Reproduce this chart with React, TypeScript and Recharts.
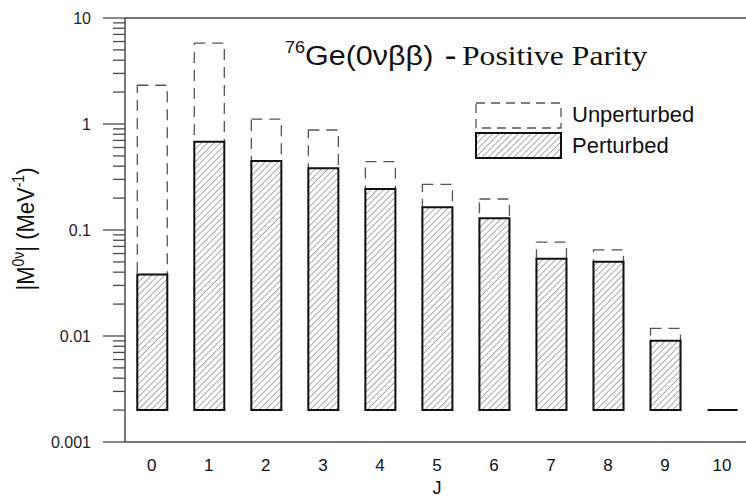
import { Bar, BarChart, Label, Legend, ReferenceLine, XAxis, YAxis } from "recharts";

// angular momentum J of the intermediate states
const J_VALUES = [0, 1, 2, 3, 4, 5, 6, 7, 8, 9, 10];
// |M0ν| contributions in MeV^-1
const UNPERTURBED = [2.32, 5.8, 1.11, 0.878, 0.441, 0.27, 0.196, 0.077, 0.065, 0.0118, null];
const PERTURBED = [0.038, 0.68, 0.448, 0.382, 0.244, 0.164, 0.129, 0.0536, 0.0502, 0.009, 0.002];
const BAR_BASE = 0.002;

const Y_MAJOR = [0.001, 0.01, 0.1, 1, 10];
const Y_MINOR_STEPS = [2, 3, 4, 5, 6, 7, 8, 9];

const yTicks = [
  ...Y_MAJOR,
  ...Y_MAJOR.slice(0, -1).flatMap((d) => Y_MINOR_STEPS.map((m) => +(d * m).toPrecision(3))),
];

const data = J_VALUES.map((j, i) => ({
  j,
  unperturbed: UNPERTURBED[i] == null ? null : [BAR_BASE, UNPERTURBED[i]],
  perturbed: [BAR_BASE, PERTURBED[i]],
}));

const SANS = "Arial, 'Liberation Sans', sans-serif";
const SERIF = "'Times New Roman', 'Liberation Serif', serif";
const AXIS = "#4a4a4a";

function DashedBar(props: any) {
  const { x, y, width, height } = props;
  if (height == null || isNaN(height)) return null;
  return (
    <rect
      x={x}
      y={y}
      width={width}
      height={height}
      fill="none"
      stroke="#555"
      strokeWidth={1.3}
      strokeDasharray="11 7"
    />
  );
}

function HatchedBar(props: any) {
  const { x, y, width, height } = props;
  if (height == null || isNaN(height)) return null;
  return (
    <path
      d={`M${x},${y}h${width}v${height}h${-width}Z`}
      fill="url(#hatch)"
      stroke="#111"
      strokeWidth={2}
    />
  );
}

function LogTick(props: any) {
  const { x, y, payload } = props;
  const major = Y_MAJOR.includes(payload.value);
  return (
    <g>
      <line x1={x - (major ? 22 : 12)} x2={x} y1={y} y2={y} stroke={AXIS} strokeWidth={1.3} />
      {major && (
        <text x={x - 34} y={y + 6} textAnchor="end" fontFamily={SANS} fontSize={16} fill="#222">
          {payload.value}
        </text>
      )}
    </g>
  );
}

function YTitle() {
  return (
    <text
      transform="translate(34, 229) scale(1.12, 1) rotate(-90)"
      textAnchor="middle"
      fontFamily={SANS}
      fontSize={22}
      fill="#111"
    >
      |M
      <tspan fontSize={14} dy={-9}>0ν</tspan>
      <tspan dy={9}>| (MeV</tspan>
      <tspan fontSize={14} dy={-9}>-1</tspan>
      <tspan dy={9}>)</tspan>
    </text>
  );
}

function JTitle(props: any) {
  const { viewBox } = props;
  return (
    <text x={viewBox.x + 312} y={494} textAnchor="middle" fontFamily={SANS} fontSize={18} fill="#111">
      J
    </text>
  );
}

function LegendBox() {
  return (
    <svg width={260} height={70}>
      <rect x={1} y={3} width={85} height={25} fill="none" stroke="#555" strokeWidth={1.3} strokeDasharray="9 6" />
      <rect x={1} y={33} width={85} height={25} fill="url(#hatch)" stroke="#111" strokeWidth={2} />
      <text x={97} y={22} fontFamily={SANS} fontSize={22} fill="#111">Unperturbed</text>
      <text x={97} y={53} fontFamily={SANS} fontSize={22} fill="#111">Perturbed</text>
    </svg>
  );
}

export default function App() {
  return (
    <div style={{ position: "absolute", left: 0, top: 0, width: 746, height: 497, background: "#fff" }}>
      <BarChart width={746} height={497} data={data} margin={{ top: 18, right: 0, bottom: 0, left: 0 }}>
        <defs>
          <pattern id="hatch" width={4.5} height={4.5} patternUnits="userSpaceOnUse" patternTransform="rotate(45)">
            <rect width={4.5} height={4.5} fill="#fff" />
            <line x1={0} y1={0} x2={0} y2={4.5} stroke="#666" strokeWidth={1.1} />
          </pattern>
        </defs>
        <XAxis
          xAxisId="j"
          dataKey="j"
          type="number"
          domain={[-0.47, 10.42]}
          ticks={J_VALUES}
          interval={0}
          allowDataOverflow
          height={55}
          tickLine={false}
          tickSize={0}
          tickMargin={17}
          axisLine={{ stroke: AXIS, strokeWidth: 1.5 }}
          tick={{ fontFamily: SANS, fontSize: 17, fill: "#111" }}
        >
          <Label content={<JTitle />} />
        </XAxis>
        <XAxis xAxisId="j2" dataKey="j" type="number" domain={[-0.47, 10.42]} allowDataOverflow hide />
        <YAxis
          scale="log"
          domain={[0.001, 10]}
          ticks={yTicks}
          interval={0}
          allowDataOverflow
          width={125}
          tickLine={false}
          tickSize={0}
          tickMargin={0}
          axisLine={{ stroke: AXIS, strokeWidth: 1.5 }}
          tick={<LogTick />}
        >
          <Label content={<YTitle />} />
        </YAxis>
        <ReferenceLine xAxisId="j" y={10} stroke={AXIS} strokeWidth={1.5} />
        <Bar xAxisId="j2" dataKey="unperturbed" barSize={30} shape={<DashedBar />} isAnimationActive={false} />
        <Bar xAxisId="j" dataKey="perturbed" barSize={30} shape={<HatchedBar />} isAnimationActive={false} />
        <Legend
          layout="horizontal"
          verticalAlign="middle"
          content={<LegendBox />}
          wrapperStyle={{ left: 475, top: 100, width: 260 }}
        />
      </BarChart>
      <svg width={746} height={90} style={{ position: "absolute", left: 0, top: 0, pointerEvents: "none" }}>
        <g fill="#111">
          <text transform="translate(285, 53) scale(1.13, 1)" fontFamily={SANS} fontSize={16}>76</text>
          <text transform="translate(305, 65) scale(1.13, 1)" fontFamily={SANS} fontSize={27}>Ge(0νββ)</text>
          <text transform="translate(445, 65) scale(1.13, 1)" fontFamily={SERIF} fontSize={30} fontWeight="bold">-</text>
          <text transform="translate(462, 65) scale(1.13, 1)" fontFamily={SERIF} fontSize={28}>Positive Parity</text>
        </g>
      </svg>
    </div>
  );
}
